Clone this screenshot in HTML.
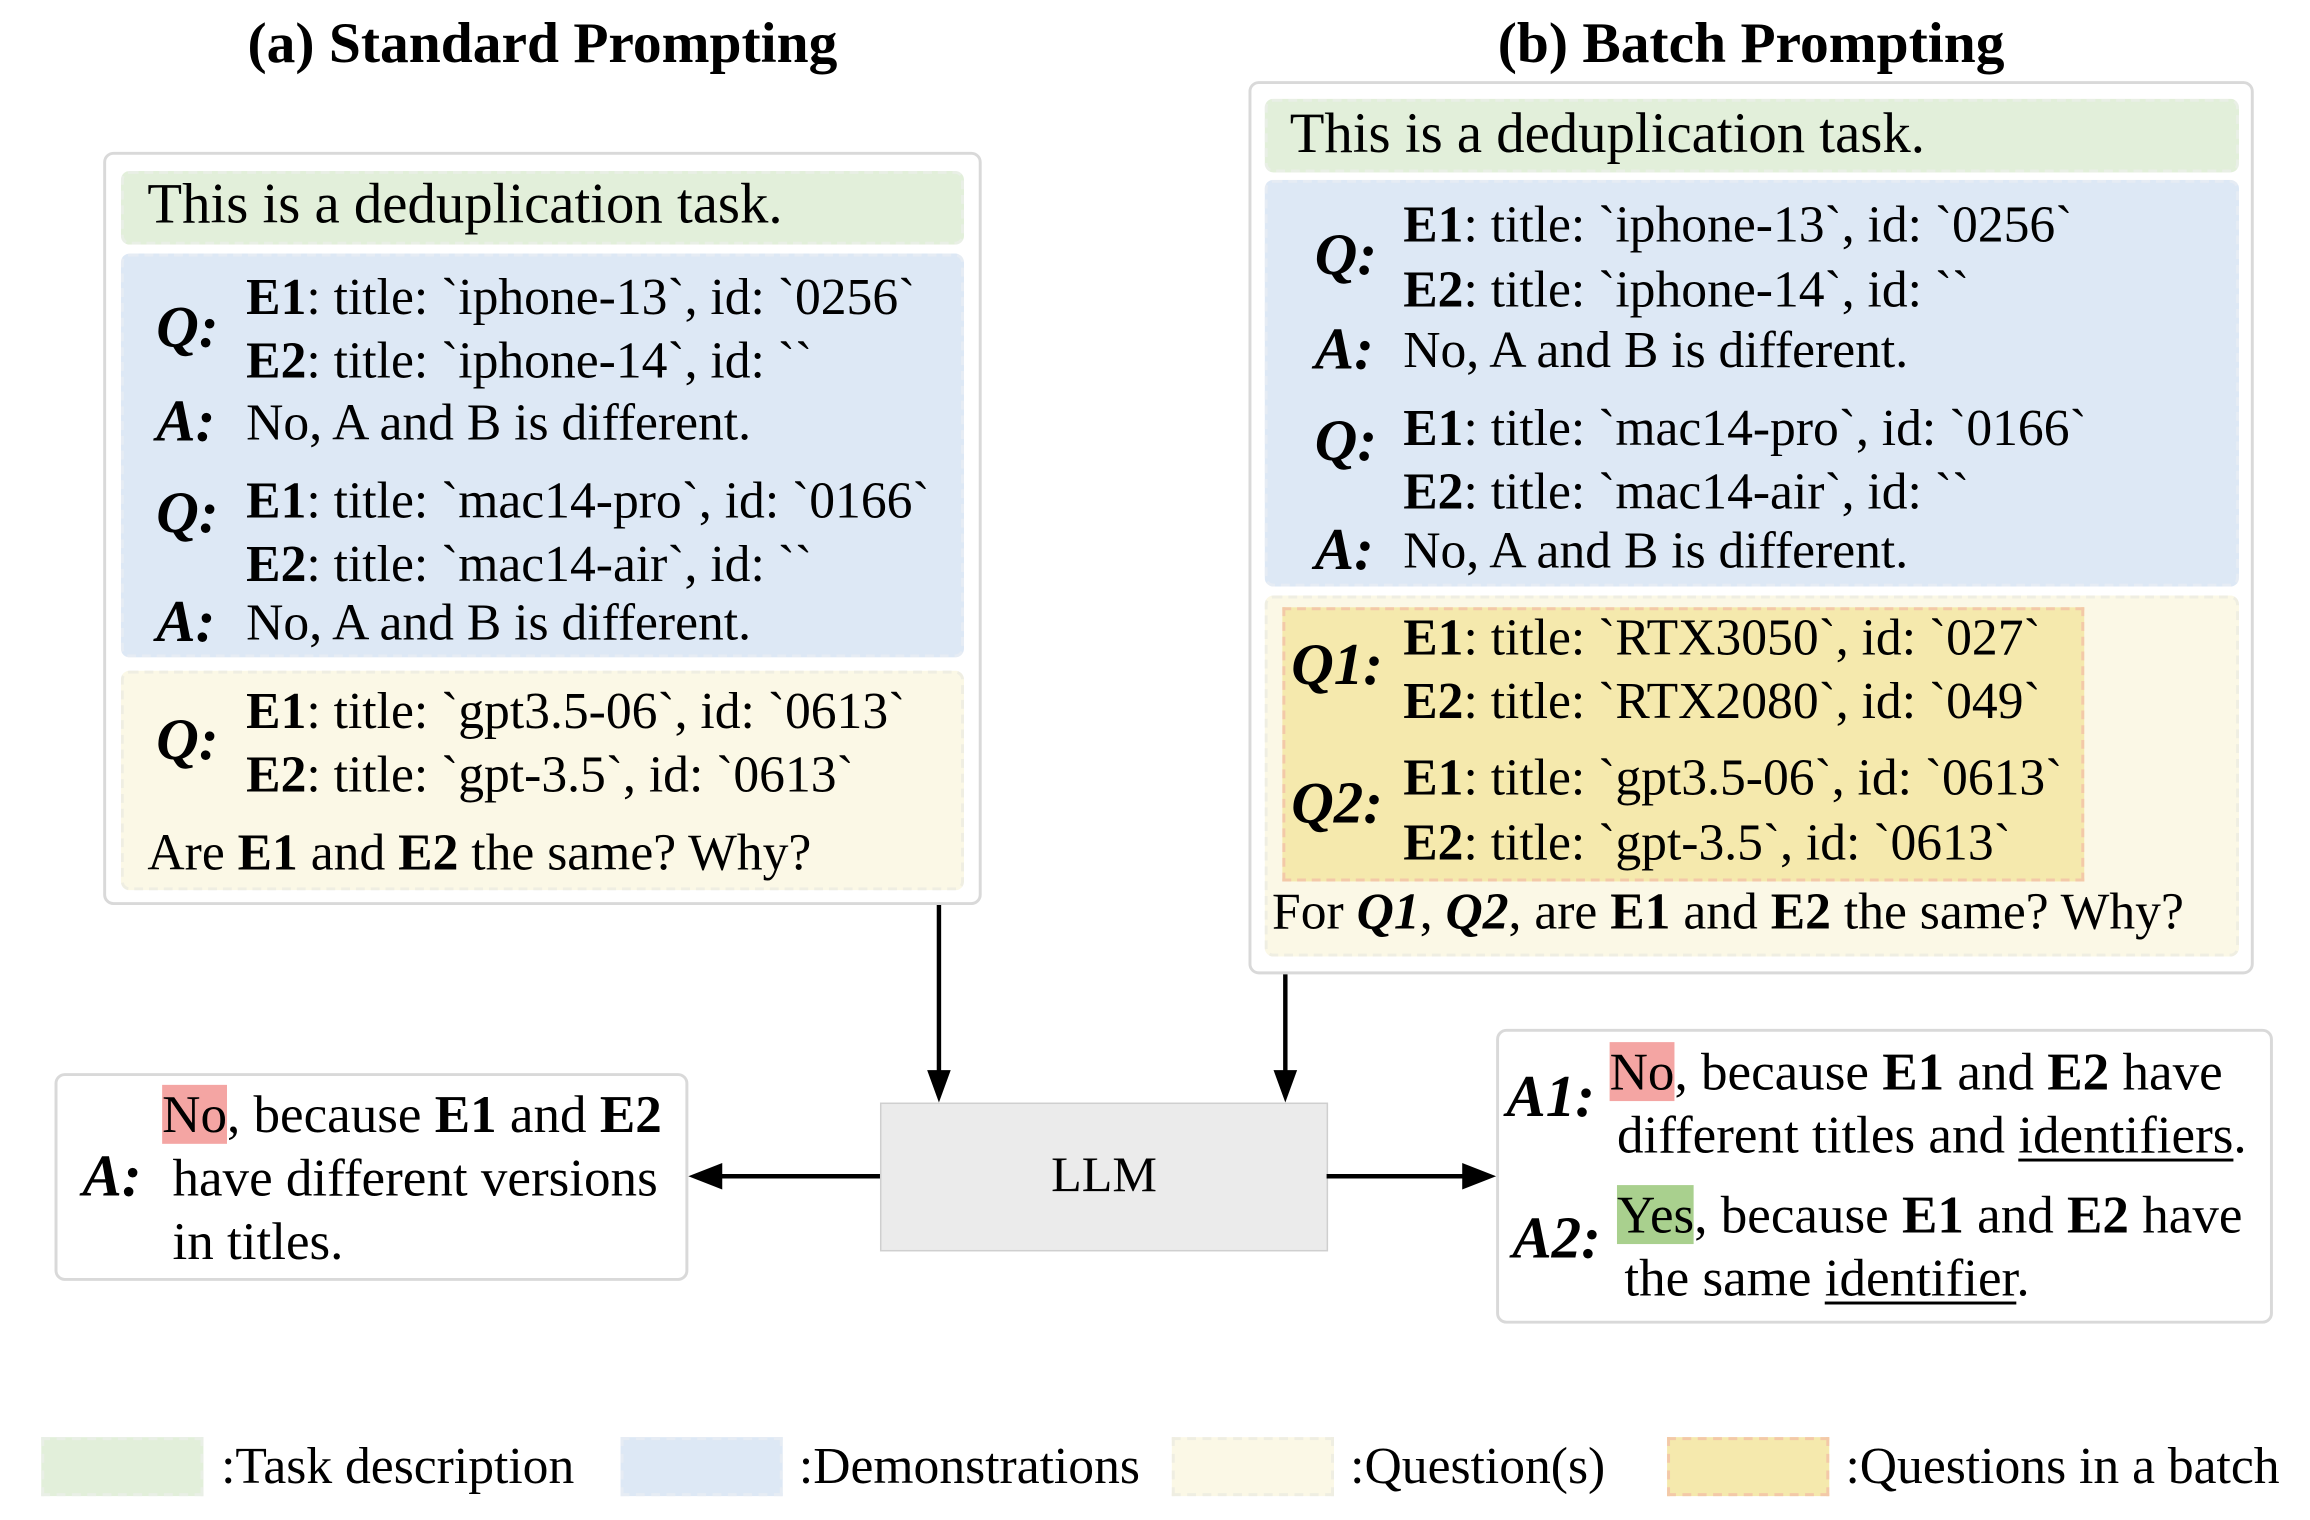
<!DOCTYPE html>
<html><head><meta charset="utf-8"><style>
html,body{margin:0;padding:0;background:#fff;}
#wrap{position:relative;width:1560px;height:1027px;transform:scale(1.474);transform-origin:0 0;font-family:"Liberation Serif",serif;color:#000;}
.a{position:absolute;}
.t{position:absolute;white-space:nowrap;font-size:35px;line-height:40px;}
.lab{position:absolute;font-size:40px;line-height:40px;font-weight:bold;font-style:italic;}
.box{position:absolute;border:2px solid #d9d9d9;border-radius:7px;box-sizing:border-box;background:#fff;}
.g{position:absolute;background:#e2efda;border:2px dashed #e9efe6;border-radius:6px;box-sizing:border-box;}
.b{position:absolute;background:#dde8f5;border:2px dashed #e6ecf4;border-radius:6px;box-sizing:border-box;}
.y{position:absolute;background:#fbf8e6;border:2px dashed #efeee2;border-radius:6px;box-sizing:border-box;}
.o{position:absolute;background:#f5e9ad;border:2px dashed #f3c9a8;box-sizing:border-box;}
.red{background:#f4a5a3;}
.grn{background:#a9d08e;}
u{text-decoration-thickness:2px;text-underline-offset:4px;}
.ans{font-size:36px;}
.leg{font-size:35px;}
</style></head><body><div id="wrap">
<div class="t" style="left:0;width:736px;text-align:center;top:10px;font-size:39px;font-weight:bold;">(a) Standard Prompting</div>
<div class="t" style="left:830px;width:716px;text-align:center;top:10px;font-size:39px;font-weight:bold;">(b) Batch Prompting</div>

<!-- left -->
<div class="box" style="left:70px;top:103px;width:596px;height:511px;"></div>
<div class="g" style="left:82px;top:116px;width:572px;height:50px;"></div>
<div class="b" style="left:82px;top:172px;width:572px;height:274px;"></div>
<div class="y" style="left:82px;top:455px;width:572px;height:149px;"></div>
<div class="t" style="left:100px;top:119px;font-size:38.5px;">This is a deduplication task.</div>
<div class="lab" style="left:106px;top:202px;">Q:</div>
<div class="t" style="left:167px;top:182px;"><b>E1</b>: title: `iphone-13`, id: `0256`</div>
<div class="t" style="left:167px;top:225px;"><b>E2</b>: title: `iphone-14`, id: ``</div>
<div class="lab" style="left:106px;top:266px;">A:</div>
<div class="t" style="left:167px;top:267px;">No, A and B is different.</div>
<div class="lab" style="left:106px;top:328px;">Q:</div>
<div class="t" style="left:167px;top:320px;"><b>E1</b>: title: `mac14-pro`, id: `0166`</div>
<div class="t" style="left:167px;top:363px;"><b>E2</b>: title: `mac14-air`, id: ``</div>
<div class="lab" style="left:106px;top:402px;">A:</div>
<div class="t" style="left:167px;top:403px;">No, A and B is different.</div>
<div class="lab" style="left:106px;top:482px;">Q:</div>
<div class="t" style="left:167px;top:463px;"><b>E1</b>: title: `gpt3.5-06`, id: `0613`</div>
<div class="t" style="left:167px;top:506px;"><b>E2</b>: title: `gpt-3.5`, id: `0613`</div>
<div class="t" style="left:100px;top:559px;">Are <b>E1</b> and <b>E2</b> the same? Why?</div>

<!-- right -->
<div class="box" style="left:847px;top:55px;width:682px;height:606px;"></div>
<div class="g" style="left:858px;top:67px;width:661px;height:50px;"></div>
<div class="b" style="left:858px;top:122px;width:661px;height:276px;"></div>
<div class="y" style="left:858px;top:404px;width:661px;height:245px;"></div>
<div class="o" style="left:870px;top:412px;width:544px;height:186px;"></div>
<div class="t" style="left:875px;top:71px;font-size:38.5px;">This is a deduplication task.</div>
<div class="lab" style="left:892px;top:153px;">Q:</div>
<div class="t" style="left:952px;top:133px;"><b>E1</b>: title: `iphone-13`, id: `0256`</div>
<div class="t" style="left:952px;top:177px;"><b>E2</b>: title: `iphone-14`, id: ``</div>
<div class="lab" style="left:892px;top:217px;">A:</div>
<div class="t" style="left:952px;top:218px;">No, A and B is different.</div>
<div class="lab" style="left:892px;top:279px;">Q:</div>
<div class="t" style="left:952px;top:271px;"><b>E1</b>: title: `mac14-pro`, id: `0166`</div>
<div class="t" style="left:952px;top:314px;"><b>E2</b>: title: `mac14-air`, id: ``</div>
<div class="lab" style="left:892px;top:353px;">A:</div>
<div class="t" style="left:952px;top:354px;">No, A and B is different.</div>
<div class="lab" style="left:876px;top:431px;">Q1:</div>
<div class="t" style="left:952px;top:413px;"><b>E1</b>: title: `RTX3050`, id: `027`</div>
<div class="t" style="left:952px;top:456px;"><b>E2</b>: title: `RTX2080`, id: `049`</div>
<div class="lab" style="left:876px;top:525px;">Q2:</div>
<div class="t" style="left:952px;top:508px;"><b>E1</b>: title: `gpt3.5-06`, id: `0613`</div>
<div class="t" style="left:952px;top:552px;"><b>E2</b>: title: `gpt-3.5`, id: `0613`</div>
<div class="t" style="left:863px;top:599px;">For <b><i>Q1</i></b>, <b><i>Q2</i></b>, are <b>E1</b> and <b>E2</b> the same? Why?</div>

<!-- LLM and arrows -->
<div class="a" style="left:597px;top:748px;width:304px;height:101px;background:#ebebeb;border:1px solid #cfcfcf;box-sizing:border-box;"></div>
<div class="t" style="left:597px;width:304px;text-align:center;top:778px;font-size:34px;">LLM</div>
<svg class="a" style="left:0;top:0;" width="1560" height="1027">
<g stroke="#000" stroke-width="3" fill="none">
<line x1="637" y1="614" x2="637" y2="730"/>
<line x1="872" y1="661" x2="872" y2="730"/>
<line x1="597" y1="798" x2="484" y2="798"/>
<line x1="900" y1="798" x2="996" y2="798"/>
</g>
<g fill="#000">
<polygon points="629,726 645,726 637,748"/>
<polygon points="864,726 880,726 872,748"/>
<polygon points="490,789 490,807 467,798"/>
<polygon points="992,789 992,807 1015,798"/>
</g>
</svg>

<!-- answer boxes -->
<div class="box" style="left:37px;top:728px;width:430px;height:141px;"></div>
<div class="t ans" style="left:110px;top:736px;"><span class="red">No</span>, because <b>E1</b> and <b>E2</b></div>
<div class="lab" style="left:56px;top:778px;">A:</div>
<div class="t ans" style="left:117px;top:779px;">have different versions</div>
<div class="t ans" style="left:117px;top:822px;">in titles.</div>

<div class="box" style="left:1015px;top:698px;width:527px;height:200px;"></div>
<div class="lab" style="left:1022px;top:724px;">A1:</div>
<div class="t ans" style="left:1092px;top:707px;"><span class="red">No</span>, because <b>E1</b> and <b>E2</b> have</div>
<div class="t ans" style="left:1097px;top:750px;">different titles and <u>identifiers</u>.</div>
<div class="lab" style="left:1026px;top:820px;">A2:</div>
<div class="t ans" style="left:1097px;top:804px;"><span class="grn">Yes</span>, because <b>E1</b> and <b>E2</b> have</div>
<div class="t ans" style="left:1102px;top:847px;">the same <u>identifier</u>.</div>

<!-- legend -->
<div class="g" style="left:28px;top:975px;width:110px;height:40px;border-radius:0;"></div>
<div class="t leg" style="left:150px;top:975px;">:Task description</div>
<div class="b" style="left:421px;top:975px;width:110px;height:40px;border-radius:0;"></div>
<div class="t leg" style="left:542px;top:975px;">:Demonstrations</div>
<div class="y" style="left:795px;top:975px;width:110px;height:40px;border-radius:0;"></div>
<div class="t leg" style="left:916px;top:975px;">:Question(s)</div>
<div class="o" style="left:1131px;top:975px;width:110px;height:40px;"></div>
<div class="t leg" style="left:1252px;top:975px;">:Questions in a batch</div>
</div></body></html>
